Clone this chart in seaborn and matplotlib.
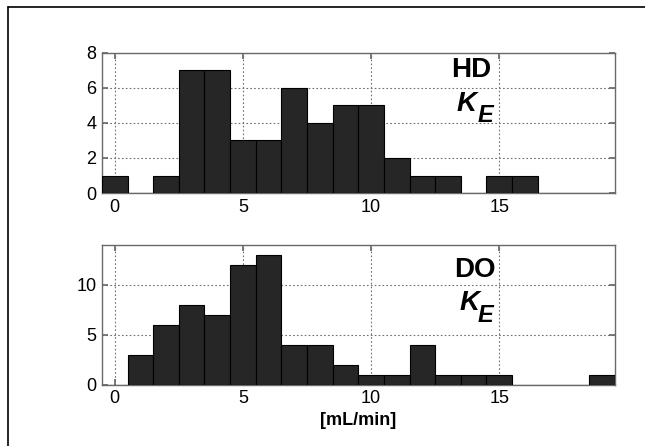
import numpy as np
import pandas as pd
import matplotlib
matplotlib.use("Agg")
import matplotlib.pyplot as plt
import seaborn as sns
from matplotlib.lines import Line2D

# Data: counts per 1 mL/min bin (bins centred on integers 0..19)
bin_centers = list(range(20))
hd_counts = [1, 0, 1, 7, 7, 3, 3, 6, 4, 5, 5, 2, 1, 1, 0, 1, 1, 0, 0, 0]
do_counts = [0, 3, 6, 8, 7, 12, 13, 4, 4, 2, 1, 1, 4, 1, 1, 1, 0, 0, 0, 1]
xticks = [0, 5, 10, 15]
hd_yticks = [0, 2, 4, 6, 8]
do_yticks = [0, 5, 10]
xlabel = "[mL/min]"

sns.set_theme(style="white")
plt.rcParams["font.family"] = ["Liberation Sans", "DejaVu Sans"]
plt.rcParams["text.color"] = "black"
plt.rcParams["axes.labelcolor"] = "black"

fig = plt.figure(figsize=(6.45, 4.46), dpi=100)
ax1 = fig.add_axes([0.158, 0.567, 0.795, 0.315])
ax2 = fig.add_axes([0.158, 0.137, 0.795, 0.314])

df_hd = pd.DataFrame({"x": bin_centers, "w": hd_counts})
df_do = pd.DataFrame({"x": bin_centers, "w": do_counts})

bar_color = "#262626"
for ax, df, yt, ylim in [
    (ax1, df_hd, hd_yticks, 8),
    (ax2, df_do, do_yticks, 14),
]:
    sns.histplot(data=df, x="x", weights="w", discrete=True, ax=ax,
                 color=bar_color, alpha=1.0, edgecolor="black", linewidth=0.8,
                 zorder=3)
    ax.set_xlim(-0.5, 19.5)
    ax.set_ylim(0, ylim)
    ax.set_xticks(xticks)
    ax.set_yticks(yt)
    ax.set_xlabel("")
    ax.set_ylabel("")
    ax.grid(True, linestyle=(0, (1.5, 2.0)), color="#707070", linewidth=0.8, zorder=0)
    ax.set_axisbelow(True)
    for s in ax.spines.values():
        s.set_visible(True)
        s.set_color("#6a6a6a")
        s.set_linewidth(1.0)
    ax.tick_params(direction="in", length=4, color="#6a6a6a", labelsize=13,
                   labelcolor="black", pad=4, bottom=True, left=True,
                   top=True, right=True, labeltop=False, labelright=False)

def label(ax, name, name_xy, k_xy, e_xy):
    ax.text(*name_xy, name, transform=ax.transAxes, ha="right", va="baseline",
            fontsize=20, fontweight="bold", color="black")
    ax.text(*k_xy, "K", transform=ax.transAxes, ha="left", va="baseline",
            fontsize=20, fontweight="bold", fontstyle="italic", color="black")
    ax.text(*e_xy, "E", transform=ax.transAxes, ha="right", va="baseline",
            fontsize=17, fontweight="bold", fontstyle="italic", color="black")

label(ax1, "HD", (0.7595, 0.829), (0.692, 0.587), (0.7635, 0.509))
label(ax2, "DO", (0.767, 0.774), (0.698, 0.538), (0.764, 0.452))

ax2.set_xlabel(xlabel, fontsize=13, fontweight="bold", labelpad=3, color="black")

# partial outer frame (top and left edges)
fig.add_artist(Line2D([0.0124, 0.0124], [0.0, 0.984], transform=fig.transFigure,
                      color="black", linewidth=1.2))
fig.add_artist(Line2D([0.0124, 1.0], [0.984, 0.984], transform=fig.transFigure,
                      color="black", linewidth=1.2))

fig.savefig("out.png", dpi=100)
